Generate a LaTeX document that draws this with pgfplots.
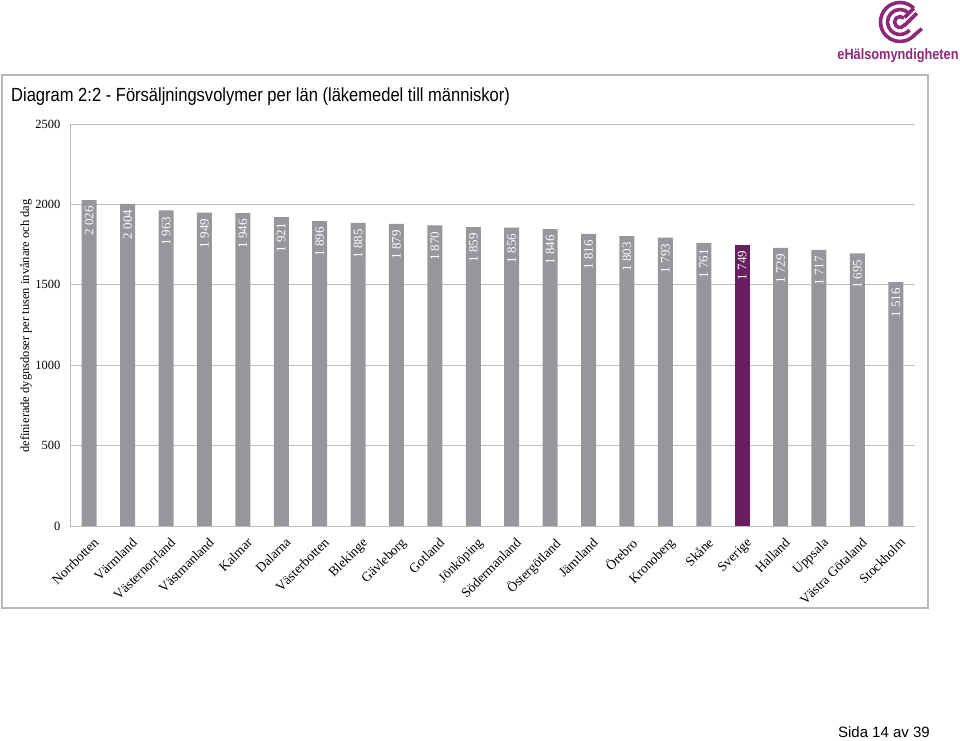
\documentclass[border=0pt]{standalone}
\usepackage{fontspec}
\setmainfont{Liberation Serif}
\newfontfamily\titlefont[FakeStretch=0.87]{Liberation Sans}
\newfontfamily\logofont[FakeStretch=0.85]{Liberation Sans}
\newfontfamily\pagefont{Liberation Sans}
\usepackage{pgfplots}
\pgfplotsset{compat=1.18}
\definecolor{bargray}{RGB}{150,150,155}
\definecolor{sverige}{RGB}{104,30,96}
\definecolor{logo}{RGB}{140,42,122}
\definecolor{gridgray}{RGB}{190,190,190}
\definecolor{framegray}{RGB}{185,185,185}
\begin{document}
\begin{tikzpicture}
\useasboundingbox (0,0) rectangle (960pt,740pt);
% frame
\draw[framegray, line width=1.2pt] (2pt,132pt) rectangle (928pt,665pt);
% title
\node[anchor=west, inner sep=0pt] at (11pt,643pt) {\titlefont\fontsize{19}{22}\selectfont Diagram 2:2 - Försäljningsvolymer per län (läkemedel till människor)};
% y label
\node[rotate=90, inner sep=0pt] at (26pt,414pt) {\fontsize{12.5}{14}\selectfont definierade dygnsdoser per tusen invånare och dag};
% page number
\node[anchor=east, inner sep=0pt] at (930pt,8pt) {\pagefont\fontsize{15}{17}\selectfont Sida 14 av 39};
% logo
\begin{scope}[logo, line width=3.6pt]
\draw (900pt,718pt) ++(45:19.5pt) arc (45:320:19.5pt) -- ++(40:9pt);
\draw (900pt,718pt) ++(45:12.5pt) arc (45:320:12.5pt);
\draw (900pt,718pt) ++(45:5.5pt) arc (45:330:5.5pt);
\draw (900pt,718pt) ++(45:19.5pt) -- ++(225:13pt);
\draw (900pt,718pt) ++(45:12.5pt) ++(0:8pt) -- ++(225:18pt);
\end{scope}
\node[logo, inner sep=0pt] at (898pt,684pt) {\logofont\bfseries\fontsize{15}{17}\selectfont eHälsomyndigheten};
\begin{axis}[
  at={(70pt,214pt)}, anchor=south west,
  scale only axis, width=845pt, height=402pt,
  xmin=-0.5, xmax=21.5, ymin=0, ymax=2500,
  ytick={0,500,1000,1500,2000,2500},
  xtick={0,...,21},
  xticklabels={Norrbotten,Värmland,Västernorrland,Västmanland,Kalmar,Dalarna,Västerbotten,Blekinge,Gävleborg,Gotland,Jönköping,Södermanland,Östergötland,Jämtland,Örebro,Kronoberg,Skåne,Sverige,Halland,Uppsala,Västra Götaland,Stockholm},
  xticklabel style={rotate=45, anchor=north east, font=\fontsize{13.5}{15}\selectfont, inner sep=1pt, xshift=-4pt, yshift=-9pt},
  yticklabel style={font=\fontsize{12.5}{14}\selectfont, /pgf/number format/1000 sep={}, xshift=-6pt},
  /pgf/number format/assume math mode=true,
  major tick length=0pt,
  ymajorgrids, grid style={gridgray, line width=0.9pt},
  axis x line*=bottom, axis y line*=left,
  axis line style={gridgray, line width=0.9pt, -},
  ybar, bar width=15pt, bar shift=0pt,
  nodes near coords={\pgfmathprintnumber[assume math mode=true,1000 sep={\ }]{\pgfplotspointmeta}},
  every node near coord/.append style={rotate=90, anchor=east, text=white, font=\fontsize{13}{14}\selectfont, inner xsep=6pt},
]
\addplot[fill=bargray, draw=none] coordinates {
(0,2026) (1,2004) (2,1963) (3,1949) (4,1946) (5,1921) (6,1896) (7,1885) (8,1879) (9,1870) (10,1859) (11,1856) (12,1846) (13,1816) (14,1803) (15,1793) (16,1761) (18,1729) (19,1717) (20,1695) (21,1516)};
\addplot[fill=sverige, draw=none] coordinates {(17,1749)};
\end{axis}
\end{tikzpicture}
\end{document}
